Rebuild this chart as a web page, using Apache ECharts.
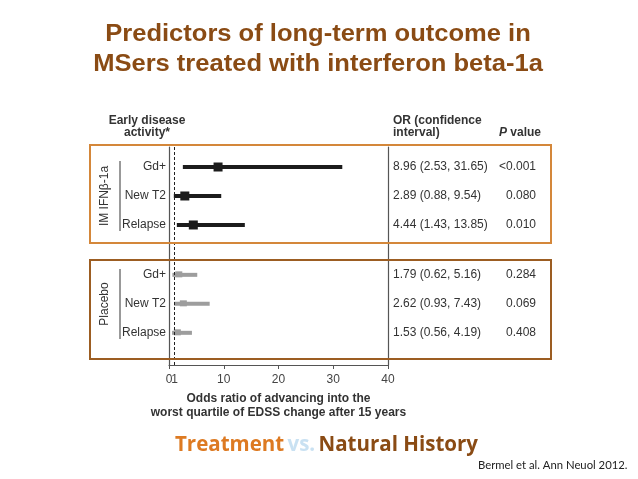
<!DOCTYPE html>
<html>
<head>
<meta charset="utf-8">
<script src="https://cdn.jsdelivr.net/npm/echarts@6/dist/echarts.min.js"></script>
<style>
  html, body { margin: 0; padding: 0; background: #fff; }
  #main { width: 638px; height: 479px; }
</style>
</head>
<body>
<div id="main"></div>
<script>
// data
const groups = ['IM IFNβ-1a', 'Placebo']
const activity = ['Gd+', 'New T2', 'Relapse']
const orIfn = [8.96, 2.89, 4.44]
const lowIfn = [2.53, 0.88, 1.43]
const highIfn = [31.65, 9.54, 13.85]
const pIfn = ['<0.001', '0.080', '0.010']
const orPlacebo = [1.79, 2.62, 1.53]
const lowPlacebo = [0.62, 0.93, 0.56]
const highPlacebo = [5.16, 7.43, 4.19]
const pPlacebo = ['0.284', '0.069', '0.408']
const xTicks = [0, 10, 20, 30, 40]
const xExtraTick = [1] // the "no effect" reference line

const FONT = '"Liberation Sans", Arial, sans-serif'
const GROUP_STEP = 3.72 // row units between the first rows of each group

const ors = [orIfn, orPlacebo]
const lows = [lowIfn, lowPlacebo]
const highs = [highIfn, highPlacebo]
const ps = [pIfn, pPlacebo]

const rows = []
groups.forEach((g, gi) => {
  activity.forEach((a, i) => {
    // [low, high, OR, position, row index, group index]
    rows.push([lows[gi][i], highs[gi][i], ors[gi][i], gi * GROUP_STEP + i, i, gi])
  })
})

const fmt = v => v.toFixed(2)

function renderRow(params, api) {
  const pos = api.value(3)
  const i = api.value(4)
  const gi = api.value(5)
  const lo = api.coord([api.value(0), pos])
  const hi = api.coord([api.value(1), pos])
  const mid = api.coord([api.value(2), pos])
  const col = gi === 0 ? '#1c1c1c' : '#9d9d9d'
  const sz = gi === 0 ? 9 : 7
  const y = mid[1]
  const txt = (text, x, align) => ({
    type: 'text',
    style: {
      text: text, x: x, y: y, align: align, verticalAlign: 'middle',
      fill: '#333', fontSize: 12, fontFamily: FONT
    }
  })
  const orTxt = fmt(ors[gi][i]) + ' (' + fmt(lows[gi][i]) + ', ' + fmt(highs[gi][i]) + ')'
  return {
    type: 'group',
    children: [
      { type: 'line', shape: { x1: lo[0], y1: y, x2: hi[0], y2: y }, style: { stroke: col, lineWidth: 4 } },
      { type: 'rect', shape: { x: mid[0] - sz / 2, y: y - sz / 2, width: sz, height: sz - (gi === 0 ? 0 : 1) }, style: { fill: col } },
      txt(activity[i], 166, 'right'),
      txt(orTxt, 393, 'left'),
      txt(ps[gi][i], 536, 'right')
    ]
  }
}

const labelStyle = { fontSize: 12, color: '#444', fontFamily: FONT, margin: 9 }

const chart = echarts.init(document.getElementById('main'))
chart.setOption({
  animation: false,
  backgroundColor: '#fff',
  grid: { left: 169, right: 250, top: 147, bottom: 114 },
  xAxis: [
    {
      type: 'value',
      min: 0,
      max: 40,
      splitLine: { show: false },
      axisLine: { onZero: false, lineStyle: { color: '#555', width: 1.2 } },
      axisTick: { customValues: xTicks, length: 4, lineStyle: { color: '#555' } },
      axisLabel: Object.assign({ customValues: xTicks }, labelStyle),
      name: 'Odds ratio of advancing into the\nworst quartile of EDSS change after 15 years',
      nameLocation: 'middle',
      nameGap: 27,
      nameTextStyle: { fontSize: 12, fontWeight: 'bold', color: '#333', fontFamily: FONT, lineHeight: 14 }
    },
    {
      // overlay axis carrying only the "1" label next to "0"
      type: 'value',
      min: 0,
      max: 40,
      position: 'bottom',
      splitLine: { show: false },
      axisLine: { show: false, onZero: false },
      axisTick: { show: false },
      axisLabel: Object.assign({ customValues: xExtraTick }, labelStyle)
    }
  ],
  yAxis: [
    {
      type: 'value', inverse: true, min: -0.69, max: 6.83,
      axisLine: { show: true, onZero: false, lineStyle: { color: '#555', width: 1.2 } },
      axisTick: { show: false }, axisLabel: { show: false }, splitLine: { show: false }
    },
    {
      type: 'value', inverse: true, min: -0.69, max: 6.83, position: 'right',
      axisLine: { show: true, onZero: false, lineStyle: { color: '#555', width: 1.2 } },
      axisTick: { show: false }, axisLabel: { show: false }, splitLine: { show: false }
    }
  ],
  series: [
    {
      type: 'custom',
      renderItem: renderRow,
      data: rows,
      clip: false,
      encode: { x: [0, 1, 2], y: 3 },
      markLine: {
        silent: true,
        symbol: 'none',
        label: { show: false },
        lineStyle: { type: [3, 2], color: '#222', width: 1 },
        data: [{ xAxis: 1 }]
      }
    }
  ],
  graphic: [
    // title (the slide text is a little stretched horizontally)
    { type: 'text', x: 318, y: 50, scaleX: 1.11, style: {
      text: 'Predictors of long-term outcome in\nMSers treated with interferon beta-1a',
      align: 'center', verticalAlign: 'middle', fontSize: 23, fontWeight: 'bold', lineHeight: 30,
      fill: '#8a4b14', fontFamily: FONT
    } },
    // orange frames round each group
    { type: 'rect', shape: { x: 90, y: 145, width: 461, height: 98 }, style: { fill: 'none', stroke: '#d4873a', lineWidth: 2 }, z: 10 },
    { type: 'rect', shape: { x: 90, y: 260, width: 461, height: 99 }, style: { fill: 'none', stroke: '#9c5d22', lineWidth: 2 }, z: 10 },
    // group brackets and labels
    { type: 'line', shape: { x1: 120, y1: 161, x2: 120, y2: 231 }, style: { stroke: '#777', lineWidth: 1.5 } },
    { type: 'line', shape: { x1: 120, y1: 269, x2: 120, y2: 339 }, style: { stroke: '#777', lineWidth: 1.5 } },
    { type: 'text', x: 105, y: 196, rotation: Math.PI / 2, style: { text: groups[0], align: 'center', verticalAlign: 'middle', fontSize: 12, fill: '#333', fontFamily: FONT } },
    { type: 'text', x: 105, y: 304, rotation: Math.PI / 2, style: { text: groups[1], align: 'center', verticalAlign: 'middle', fontSize: 12, fill: '#333', fontFamily: FONT } },
    // column headers
    { type: 'text', x: 147, y: 127, style: { text: 'Early disease\nactivity*', align: 'center', verticalAlign: 'middle', fontSize: 12, fontWeight: 'bold', lineHeight: 12, fill: '#333', fontFamily: FONT } },
    { type: 'text', x: 393, y: 127, style: { text: 'OR (confidence\ninterval)', align: 'left', verticalAlign: 'middle', fontSize: 12, fontWeight: 'bold', lineHeight: 12, fill: '#333', fontFamily: FONT } },
    { type: 'text', x: 541, y: 133, style: {
      text: '{i|P} value', align: 'right', verticalAlign: 'middle', fontSize: 12, fontWeight: 'bold', fill: '#333', fontFamily: FONT,
      rich: { i: { fontStyle: 'italic', fontWeight: 'bold', fontSize: 12, fill: '#333', fontFamily: FONT } }
    } },
    // footer
    { type: 'text', x: 175, y: 445, style: {
      text: '{a|Treatment} {b|vs.} {c|Natural History}', align: 'left', verticalAlign: 'middle',
      rich: {
        a: { fontSize: 20.5, fontWeight: 'bold', fontFamily: '"Open Sans", Lato, sans-serif', fill: '#dd7a22' },
        b: { fontSize: 20.5, fontWeight: 'bold', fontFamily: '"Open Sans", Lato, sans-serif', fill: '#c9e1f2' },
        c: { fontSize: 20.5, fontWeight: 'bold', fontFamily: '"Open Sans", Lato, sans-serif', fill: '#8a4b14' }
      }
    } },
    { type: 'text', x: 478, y: 465, style: { text: 'Bermel et al. Ann Neuol 2012.', align: 'left', verticalAlign: 'middle', fontSize: 11.3, fill: '#222', fontFamily: 'Lato, "Open Sans", sans-serif' } }
  ]
})
</script>
</body>
</html>
